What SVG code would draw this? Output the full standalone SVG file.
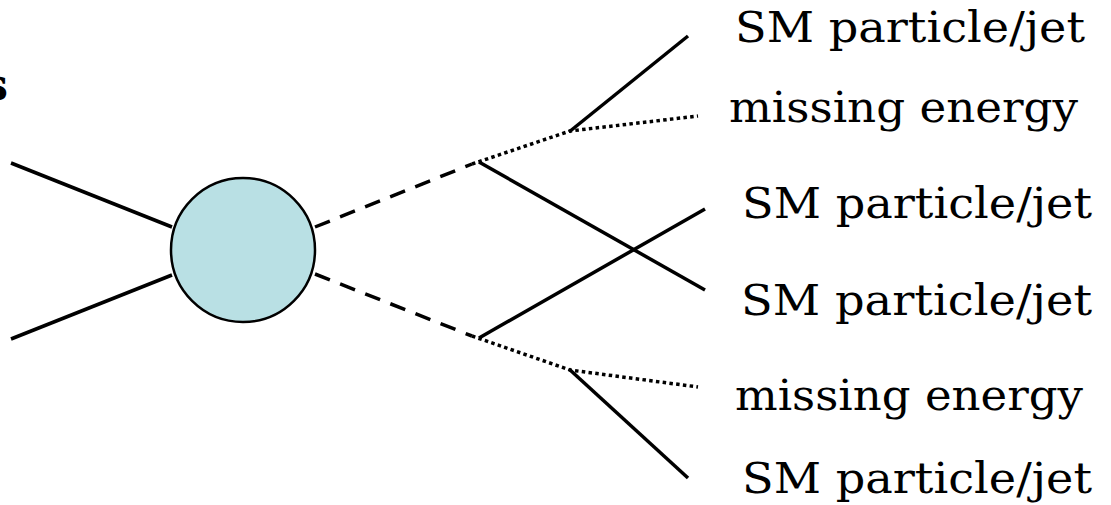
<svg xmlns="http://www.w3.org/2000/svg" width="1111" height="505" viewBox="0 0 1111 505">
<style>
.solid{stroke:#000;stroke-width:3.5;fill:none;stroke-linecap:butt}
.dash{stroke:#000;stroke-width:3.5;fill:none;stroke-dasharray:16 11}
.dot{stroke:#000;stroke-width:3.5;fill:none;stroke-dasharray:3.5 3.3}
.lbl{font-family:"DejaVu Serif","Liberation Serif",serif;font-size:43px;fill:#000}
</style>
<rect width="1111" height="505" fill="#fff"/>
<text x="8" y="100" text-anchor="end" style="font-family:'DejaVu Serif',serif;font-size:44px;font-weight:bold">s</text>
<g id="connectors">
  <line class="solid" x1="11" y1="163" x2="172" y2="227"/>
  <line class="solid" x1="11" y1="339" x2="172" y2="275"/>
  <line class="dash" x1="315" y1="227" x2="472" y2="164"/>
  <line class="dash" x1="315" y1="274" x2="472" y2="336"/>
  <polyline class="dot" points="472,164 570,131 698,116"/>
  <polyline class="dot" points="472,336 570,370 698,387"/>
  <line class="solid" x1="569" y1="132" x2="688" y2="36"/>
  <line class="solid" x1="569" y1="369" x2="688" y2="478"/>
  <line class="solid" x1="479" y1="162" x2="705" y2="290"/>
  <line class="solid" x1="479" y1="338" x2="705" y2="209"/>
</g>
<g id="blob">
  <circle cx="243" cy="250" r="72" fill="#b9e0e4" stroke="#000" stroke-width="2.5"/>
</g>
<g id="labels">
  <text class="lbl" x="735" y="42" textLength="350" lengthAdjust="spacingAndGlyphs">SM particle/jet</text>
  <text class="lbl" x="729" y="122" textLength="349" lengthAdjust="spacingAndGlyphs">missing energy</text>
  <text class="lbl" x="742" y="218" textLength="350" lengthAdjust="spacingAndGlyphs">SM particle/jet</text>
  <text class="lbl" x="741" y="315" textLength="351" lengthAdjust="spacingAndGlyphs">SM particle/jet</text>
  <text class="lbl" x="735" y="410" textLength="348" lengthAdjust="spacingAndGlyphs">missing energy</text>
  <text class="lbl" x="742" y="493" textLength="350" lengthAdjust="spacingAndGlyphs">SM particle/jet</text>
</g>
</svg>
